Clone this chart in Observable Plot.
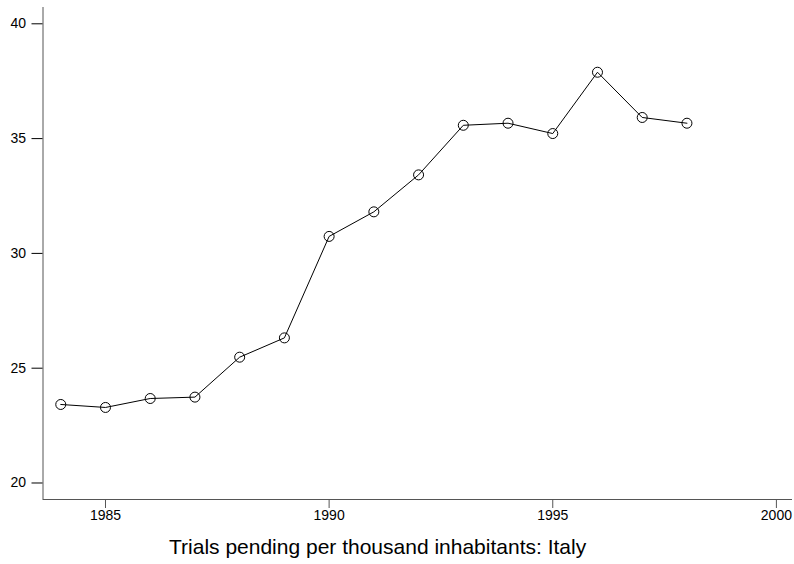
<!DOCTYPE html>
<html>
<head>
<meta charset="utf-8">
<script src="https://cdn.jsdelivr.net/npm/d3@7"></script>
<script src="https://cdn.jsdelivr.net/npm/@observablehq/plot@0.6"></script>
<style>
  html, body { margin: 0; padding: 0; background: #fff; }
  body { width: 794px; height: 564px; overflow: hidden; font-family: "Liberation Sans", Arial, Helvetica, sans-serif; }
  #caption { font-size: 21px; color: #000; margin-left: 169px; margin-top: 6px; line-height: 22px; white-space: nowrap; }
  svg { display: block; }
</style>
</head>
<body>
<div id="chart"></div>
<div id="caption"></div>
<script>
const years = [1984, 1985, 1986, 1987, 1988, 1989, 1990, 1991, 1992, 1993, 1994, 1995, 1996, 1997, 1998];
const pending = [23.42, 23.29, 23.68, 23.74, 25.48, 26.32, 30.74, 31.81, 33.42, 35.58, 35.67, 35.22, 37.89, 35.92, 35.67];
const xTicks = [1985, 1990, 1995, 2000];
const yTicks = [20, 25, 30, 35, 40];
const captionText = "Trials pending per thousand inhabitants: Italy";

const data = years.map((year, i) => ({year, value: pending[i]}));
const xDomain = [1983.603, 2000.36];
const yDomain = [19.281, 40.71];

const chart = Plot.plot({
  width: 794,
  height: 530,
  marginLeft: 42.5,
  marginRight: 2,
  marginTop: 7,
  marginBottom: 31,
  style: {fontFamily: '"Liberation Sans", Arial, Helvetica, sans-serif', fontSize: "14px", color: "#000", background: "#fff"},
  x: {domain: xDomain, label: null},
  y: {domain: yDomain, label: null},
  marks: [
    Plot.ruleX([xDomain[0]], {stroke: "#555", strokeWidth: 1}),
    Plot.ruleY([yDomain[0]], {stroke: "#555", strokeWidth: 1}),
    Plot.axisY({ticks: yTicks, tickSize: 11, tickPadding: 6, tickFormat: d => String(d), stroke: "#000", fontSize: 14, label: null}),
    Plot.axisX({ticks: xTicks, tickSize: 9, tickPadding: 2, tickFormat: d => String(d), stroke: "#555", fontSize: 14, label: null}),
    Plot.line(data, {x: "year", y: "value", stroke: "#000", strokeWidth: 1}),
    Plot.dot(data, {x: "year", y: "value", r: 5, stroke: "#000", fill: "none", strokeWidth: 1})
  ]
});
document.getElementById("chart").appendChild(chart);
document.getElementById("caption").textContent = captionText;
</script>
</body>
</html>
